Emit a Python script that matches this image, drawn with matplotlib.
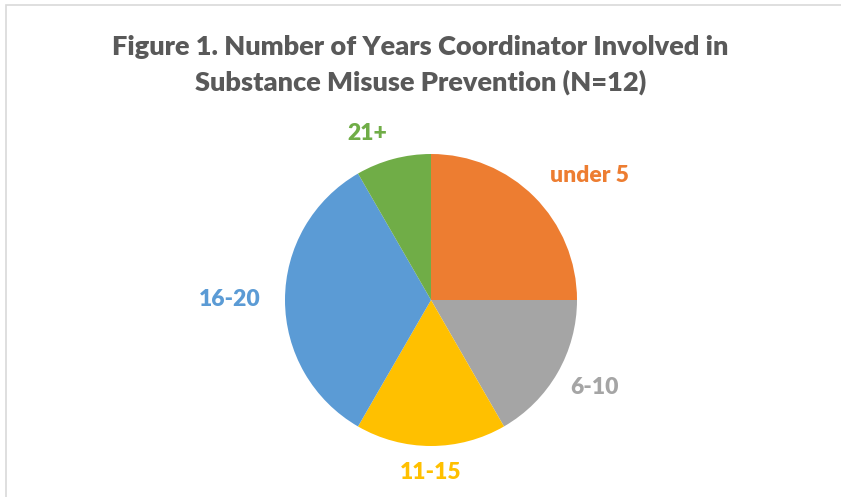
import numpy as np
import matplotlib
matplotlib.use("Agg")
import matplotlib.pyplot as plt
from matplotlib.patches import Rectangle

categories = ["under 5", "6-10", "11-15", "16-20", "21+"]
counts = [3, 2, 2, 4, 1]
colors = ["#ED7D31", "#A5A5A5", "#FFC000", "#5B9BD5", "#70AD47"]
# label placement: radial distance (in radii) and angle tweak (deg)
label_dist = [1.38, 1.27, 1.18, 1.38, 1.22]
label_tweak = [-7, 2, 0, 0, 6]

plt.rcParams["font.family"] = ["Lato", "DejaVu Sans"]

W, H = 841, 497
fig = plt.figure(figsize=(W / 100, H / 100), dpi=100)

# chart border (light gray)
fig.patches.append(Rectangle((6 / W, -0.1), 1.2, 1 - 5 / H + 0.1,
                             transform=fig.transFigure, fill=False,
                             edgecolor="#D9D9D9", linewidth=1.2))

fig.text(0.5, 1 - 47 / H, "Figure 1. Number of Years Coordinator Involved in",
         ha="center", va="center", fontsize=19.5, fontweight="heavy", color="#595959")
fig.text(0.5, 1 - 82 / H, "Substance Misuse Prevention (N=12)",
         ha="center", va="center", fontsize=19.5, fontweight="heavy", color="#595959")

cx, cy, r = 431, 300, 146
ax = fig.add_axes([(cx - r) / W, 1 - (cy + r) / H, 2 * r / W, 2 * r / H])
wedges, _ = ax.pie(counts, colors=colors, startangle=90, counterclock=False,
                   radius=1, wedgeprops=dict(linewidth=0))
ax.set_xlim(-1, 1)
ax.set_ylim(-1, 1)
ax.set_aspect("auto")
ax.axis("off")

for w, lab, col, d, tw in zip(wedges, categories, colors, label_dist, label_tweak):
    ang = np.deg2rad((w.theta1 + w.theta2) / 2 + tw)
    ax.text(d * np.cos(ang), d * np.sin(ang), lab, ha="center", va="center",
            fontsize=16.5, fontweight="heavy", color=col, clip_on=False)

fig.savefig("out.png", dpi=100)
